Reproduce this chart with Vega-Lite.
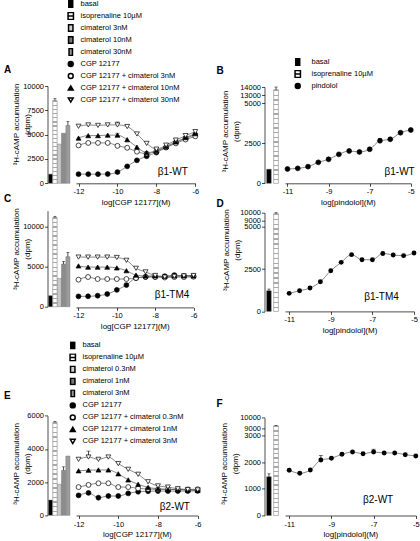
{
"$schema": "https://vega.github.io/schema/vega-lite/v6.json",
"padding": {"left": 3.5, "top": 0, "right": 0, "bottom": 0},
"params": [
  {"name": "hatch", "value": {"gradient": "linear", "x1": 0, "y1": 0, "x2": 0, "y2": 1, "stops": [
    {"offset": 0, "color": "#aaa"}, {"offset": 0.015, "color": "#aaa"}, {"offset": 0.015, "color": "#fff"}, {"offset": 0.05, "color": "#fff"},
    {"offset": 0.05, "color": "#aaa"}, {"offset": 0.065, "color": "#aaa"}, {"offset": 0.065, "color": "#fff"}, {"offset": 0.1, "color": "#fff"},
    {"offset": 0.1, "color": "#aaa"}, {"offset": 0.115, "color": "#aaa"}, {"offset": 0.115, "color": "#fff"}, {"offset": 0.15, "color": "#fff"},
    {"offset": 0.15, "color": "#aaa"}, {"offset": 0.165, "color": "#aaa"}, {"offset": 0.165, "color": "#fff"}, {"offset": 0.2, "color": "#fff"},
    {"offset": 0.2, "color": "#aaa"}, {"offset": 0.215, "color": "#aaa"}, {"offset": 0.215, "color": "#fff"}, {"offset": 0.25, "color": "#fff"},
    {"offset": 0.25, "color": "#aaa"}, {"offset": 0.265, "color": "#aaa"}, {"offset": 0.265, "color": "#fff"}, {"offset": 0.3, "color": "#fff"},
    {"offset": 0.3, "color": "#aaa"}, {"offset": 0.315, "color": "#aaa"}, {"offset": 0.315, "color": "#fff"}, {"offset": 0.35, "color": "#fff"},
    {"offset": 0.35, "color": "#aaa"}, {"offset": 0.365, "color": "#aaa"}, {"offset": 0.365, "color": "#fff"}, {"offset": 0.4, "color": "#fff"},
    {"offset": 0.4, "color": "#aaa"}, {"offset": 0.415, "color": "#aaa"}, {"offset": 0.415, "color": "#fff"}, {"offset": 0.45, "color": "#fff"},
    {"offset": 0.45, "color": "#aaa"}, {"offset": 0.465, "color": "#aaa"}, {"offset": 0.465, "color": "#fff"}, {"offset": 0.5, "color": "#fff"},
    {"offset": 0.5, "color": "#aaa"}, {"offset": 0.515, "color": "#aaa"}, {"offset": 0.515, "color": "#fff"}, {"offset": 0.55, "color": "#fff"},
    {"offset": 0.55, "color": "#aaa"}, {"offset": 0.565, "color": "#aaa"}, {"offset": 0.565, "color": "#fff"}, {"offset": 0.6, "color": "#fff"},
    {"offset": 0.6, "color": "#aaa"}, {"offset": 0.615, "color": "#aaa"}, {"offset": 0.615, "color": "#fff"}, {"offset": 0.65, "color": "#fff"},
    {"offset": 0.65, "color": "#aaa"}, {"offset": 0.665, "color": "#aaa"}, {"offset": 0.665, "color": "#fff"}, {"offset": 0.7, "color": "#fff"},
    {"offset": 0.7, "color": "#aaa"}, {"offset": 0.715, "color": "#aaa"}, {"offset": 0.715, "color": "#fff"}, {"offset": 0.75, "color": "#fff"},
    {"offset": 0.75, "color": "#aaa"}, {"offset": 0.765, "color": "#aaa"}, {"offset": 0.765, "color": "#fff"}, {"offset": 0.8, "color": "#fff"},
    {"offset": 0.8, "color": "#aaa"}, {"offset": 0.815, "color": "#aaa"}, {"offset": 0.815, "color": "#fff"}, {"offset": 0.85, "color": "#fff"},
    {"offset": 0.85, "color": "#aaa"}, {"offset": 0.865, "color": "#aaa"}, {"offset": 0.865, "color": "#fff"}, {"offset": 0.9, "color": "#fff"},
    {"offset": 0.9, "color": "#aaa"}, {"offset": 0.915, "color": "#aaa"}, {"offset": 0.915, "color": "#fff"}, {"offset": 0.95, "color": "#fff"},
    {"offset": 0.95, "color": "#aaa"}, {"offset": 0.965, "color": "#aaa"}, {"offset": 0.965, "color": "#fff"}, {"offset": 1, "color": "#fff"}
  ]}}
],
"config": {
  "view": {"stroke": null},
  "font": "Liberation Sans",
  "axis": {"labelFont": "Liberation Sans", "labelFontSize": 7.5, "labelColor": "#000", "titleFont": "Liberation Sans", "titleFontSize": 8, "titleFontWeight": "normal", "titleColor": "#000", "domainColor": "#000", "domainWidth": 0.7, "tickColor": "#000", "tickWidth": 0.7, "tickSize": 3, "labelPadding": 1.5, "grid": false, "labelOverlap": false},
  "axisX": {"titlePadding": 3, "labelFlush": false},
  "axisY": {"titleAngle": 270, "titleBaseline": "middle", "titleAlign": "center", "titleLineHeight": 11, "labelPadding": 1},
  "title": {"font": "Liberation Sans", "color": "#000", "fontSize": 10, "fontWeight": "bold", "anchor": "start", "frame": "group", "baseline": "alphabetic"},
  "text": {"font": "Liberation Sans", "color": "#000"},
  "legend": {"title": null, "orient": "none", "labelFontSize": 7.5, "labelFont": "Liberation Sans", "labelColor": "#000", "symbolSize": 24, "symbolOpacity": 1, "rowPadding": 4, "clipHeight": 8, "labelLimit": 220}
},
"datasets": {
  "A_bars": [{"series":"basal","value":940},{"series":"isoprenaline 10µM","value":8500,"hi":8700},{"series":"cimaterol 3nM","value":4030},{"series":"cimaterol 10nM","value":5140},{"series":"cimaterol 30nM","value":5940,"hi":6350}],
  "C_bars": [{"series":"basal","value":1375},{"series":"isoprenaline 10µM","value":11150,"hi":11300},{"series":"cimaterol 3nM","value":3540},{"series":"cimaterol 10nM","value":5330,"hi":5650},{"series":"cimaterol 30nM","value":6250,"hi":6800}],
  "E_bars": [{"series":"basal","value":920},{"series":"isoprenaline 10µM","value":5600,"hi":5650},{"series":"cimaterol 0.3nM","value":1870},{"series":"cimaterol 1nM","value":2710,"hi":2920},{"series":"cimaterol 3nM","value":3570}],
  "B_bars": [{"series":"basal","value":880},{"series":"isoprenaline 10µM","value":13650,"hi":14000}],
  "D_bars": [{"series":"basal","value":1220,"hi":1320},{"series":"isoprenaline 10µM","value":9850,"hi":10000}],
  "F_bars": [{"series":"basal","value":1450,"hi":1560},{"series":"isoprenaline 10µM","value":9250,"hi":9300}],
  "A_curves": [
    {"logc":-12,"series":"CGP 12177","value":940},{"logc":-11.5,"series":"CGP 12177","value":940},{"logc":-11,"series":"CGP 12177","value":940},{"logc":-10.5,"series":"CGP 12177","value":950},{"logc":-10,"series":"CGP 12177","value":1150},{"logc":-9.5,"series":"CGP 12177","value":1740},{"logc":-9,"series":"CGP 12177","value":2360},{"logc":-8.5,"series":"CGP 12177","value":2780},{"logc":-8,"series":"CGP 12177","value":3160},{"logc":-7.5,"series":"CGP 12177","value":3680},{"logc":-7,"series":"CGP 12177","value":4200},{"logc":-6.5,"series":"CGP 12177","value":4620},{"logc":-6,"series":"CGP 12177","value":5000},
    {"logc":-12,"series":"CGP 12177 + cimaterol 3nM","value":3890},{"logc":-11.5,"series":"CGP 12177 + cimaterol 3nM","value":4150},{"logc":-11,"series":"CGP 12177 + cimaterol 3nM","value":4150},{"logc":-10.5,"series":"CGP 12177 + cimaterol 3nM","value":4150},{"logc":-10,"series":"CGP 12177 + cimaterol 3nM","value":3850},{"logc":-9.5,"series":"CGP 12177 + cimaterol 3nM","value":3650},{"logc":-9,"series":"CGP 12177 + cimaterol 3nM","value":3250},{"logc":-8.5,"series":"CGP 12177 + cimaterol 3nM","value":3050},{"logc":-8,"series":"CGP 12177 + cimaterol 3nM","value":3300},{"logc":-7.5,"series":"CGP 12177 + cimaterol 3nM","value":3700},{"logc":-7,"series":"CGP 12177 + cimaterol 3nM","value":4100},{"logc":-6.5,"series":"CGP 12177 + cimaterol 3nM","value":4500},{"logc":-6,"series":"CGP 12177 + cimaterol 3nM","value":4830},
    {"logc":-12,"series":"CGP 12177 + cimaterol 10nM","value":4650},{"logc":-11.5,"series":"CGP 12177 + cimaterol 10nM","value":4900},{"logc":-11,"series":"CGP 12177 + cimaterol 10nM","value":4900},{"logc":-10.5,"series":"CGP 12177 + cimaterol 10nM","value":4950},{"logc":-10,"series":"CGP 12177 + cimaterol 10nM","value":4950,"hi":5150},{"logc":-9.5,"series":"CGP 12177 + cimaterol 10nM","value":4480},{"logc":-9,"series":"CGP 12177 + cimaterol 10nM","value":3720},{"logc":-8.5,"series":"CGP 12177 + cimaterol 10nM","value":3150},{"logc":-8,"series":"CGP 12177 + cimaterol 10nM","value":3350},{"logc":-7.5,"series":"CGP 12177 + cimaterol 10nM","value":3800},{"logc":-7,"series":"CGP 12177 + cimaterol 10nM","value":4250},{"logc":-6.5,"series":"CGP 12177 + cimaterol 10nM","value":4700},{"logc":-6,"series":"CGP 12177 + cimaterol 10nM","value":5100},
    {"logc":-12,"series":"CGP 12177 + cimaterol 30nM","value":5860},{"logc":-11.5,"series":"CGP 12177 + cimaterol 30nM","value":6000},{"logc":-11,"series":"CGP 12177 + cimaterol 30nM","value":5950},{"logc":-10.5,"series":"CGP 12177 + cimaterol 30nM","value":6000},{"logc":-10,"series":"CGP 12177 + cimaterol 30nM","value":6000,"hi":6300},{"logc":-9.5,"series":"CGP 12177 + cimaterol 30nM","value":5830},{"logc":-9,"series":"CGP 12177 + cimaterol 30nM","value":5070},{"logc":-8.5,"series":"CGP 12177 + cimaterol 30nM","value":4100},{"logc":-8,"series":"CGP 12177 + cimaterol 30nM","value":3510},{"logc":-7.5,"series":"CGP 12177 + cimaterol 30nM","value":3920},{"logc":-7,"series":"CGP 12177 + cimaterol 30nM","value":4440},{"logc":-6.5,"series":"CGP 12177 + cimaterol 30nM","value":4900},{"logc":-6,"series":"CGP 12177 + cimaterol 30nM","value":5310}
  ],
  "C_curves": [
    {"logc":-12,"series":"CGP 12177","value":1290},{"logc":-11.5,"series":"CGP 12177","value":1300},{"logc":-11,"series":"CGP 12177","value":1375},{"logc":-10.5,"series":"CGP 12177","value":1580},{"logc":-10,"series":"CGP 12177","value":2100},{"logc":-9.5,"series":"CGP 12177","value":2700},{"logc":-9,"series":"CGP 12177","value":3580},{"logc":-8.5,"series":"CGP 12177","value":3700},{"logc":-8,"series":"CGP 12177","value":3750},{"logc":-7.5,"series":"CGP 12177","value":3800},{"logc":-7,"series":"CGP 12177","value":3950},{"logc":-6.5,"series":"CGP 12177","value":3850},{"logc":-6,"series":"CGP 12177","value":3800},
    {"logc":-12,"series":"CGP 12177 + cimaterol 3nM","value":3380},{"logc":-11.5,"series":"CGP 12177 + cimaterol 3nM","value":3710},{"logc":-11,"series":"CGP 12177 + cimaterol 3nM","value":3460},{"logc":-10.5,"series":"CGP 12177 + cimaterol 3nM","value":3460},{"logc":-10,"series":"CGP 12177 + cimaterol 3nM","value":3460},{"logc":-9.5,"series":"CGP 12177 + cimaterol 3nM","value":3460},{"logc":-9,"series":"CGP 12177 + cimaterol 3nM","value":3580},{"logc":-8.5,"series":"CGP 12177 + cimaterol 3nM","value":3750},{"logc":-8,"series":"CGP 12177 + cimaterol 3nM","value":3700},{"logc":-7.5,"series":"CGP 12177 + cimaterol 3nM","value":3650},{"logc":-7,"series":"CGP 12177 + cimaterol 3nM","value":3700},{"logc":-6.5,"series":"CGP 12177 + cimaterol 3nM","value":3700},{"logc":-6,"series":"CGP 12177 + cimaterol 3nM","value":3750},
    {"logc":-12,"series":"CGP 12177 + cimaterol 10nM","value":5100},{"logc":-11.5,"series":"CGP 12177 + cimaterol 10nM","value":4950},{"logc":-11,"series":"CGP 12177 + cimaterol 10nM","value":4950},{"logc":-10.5,"series":"CGP 12177 + cimaterol 10nM","value":4950},{"logc":-10,"series":"CGP 12177 + cimaterol 10nM","value":4850},{"logc":-9.5,"series":"CGP 12177 + cimaterol 10nM","value":4500},{"logc":-9,"series":"CGP 12177 + cimaterol 10nM","value":3950},{"logc":-8.5,"series":"CGP 12177 + cimaterol 10nM","value":3850},{"logc":-8,"series":"CGP 12177 + cimaterol 10nM","value":3850},{"logc":-7.5,"series":"CGP 12177 + cimaterol 10nM","value":3800},{"logc":-7,"series":"CGP 12177 + cimaterol 10nM","value":3850},{"logc":-6.5,"series":"CGP 12177 + cimaterol 10nM","value":3850},{"logc":-6,"series":"CGP 12177 + cimaterol 10nM","value":3850},
    {"logc":-12,"series":"CGP 12177 + cimaterol 30nM","value":6200},{"logc":-11.5,"series":"CGP 12177 + cimaterol 30nM","value":6200},{"logc":-11,"series":"CGP 12177 + cimaterol 30nM","value":6200},{"logc":-10.5,"series":"CGP 12177 + cimaterol 30nM","value":6200},{"logc":-10,"series":"CGP 12177 + cimaterol 30nM","value":6150},{"logc":-9.5,"series":"CGP 12177 + cimaterol 30nM","value":5800},{"logc":-9,"series":"CGP 12177 + cimaterol 30nM","value":4800},{"logc":-8.5,"series":"CGP 12177 + cimaterol 30nM","value":4350},{"logc":-8,"series":"CGP 12177 + cimaterol 30nM","value":3900},{"logc":-7.5,"series":"CGP 12177 + cimaterol 30nM","value":3700},{"logc":-7,"series":"CGP 12177 + cimaterol 30nM","value":3800},{"logc":-6.5,"series":"CGP 12177 + cimaterol 30nM","value":3850},{"logc":-6,"series":"CGP 12177 + cimaterol 30nM","value":3900}
  ],
  "E_curves": [
    {"logc":-12,"series":"CGP 12177","value":1200},{"logc":-11.5,"series":"CGP 12177","value":1350},{"logc":-11,"series":"CGP 12177","value":1060},{"logc":-10.5,"series":"CGP 12177","value":1160},{"logc":-10,"series":"CGP 12177","value":1160},{"logc":-9.5,"series":"CGP 12177","value":1320},{"logc":-9,"series":"CGP 12177","value":1420},{"logc":-8.5,"series":"CGP 12177","value":1450},{"logc":-8,"series":"CGP 12177","value":1460},{"logc":-7.5,"series":"CGP 12177","value":1460},{"logc":-7,"series":"CGP 12177","value":1460},{"logc":-6.5,"series":"CGP 12177","value":1460},{"logc":-6,"series":"CGP 12177","value":1470},
    {"logc":-12,"series":"CGP 12177 + cimaterol 0.3nM","value":1700},{"logc":-11.5,"series":"CGP 12177 + cimaterol 0.3nM","value":1830},{"logc":-11,"series":"CGP 12177 + cimaterol 0.3nM","value":1930},{"logc":-10.5,"series":"CGP 12177 + cimaterol 0.3nM","value":1930},{"logc":-10,"series":"CGP 12177 + cimaterol 0.3nM","value":1700},{"logc":-9.5,"series":"CGP 12177 + cimaterol 0.3nM","value":1700},{"logc":-9,"series":"CGP 12177 + cimaterol 0.3nM","value":1620},{"logc":-8.5,"series":"CGP 12177 + cimaterol 0.3nM","value":1580},{"logc":-8,"series":"CGP 12177 + cimaterol 0.3nM","value":1560},{"logc":-7.5,"series":"CGP 12177 + cimaterol 0.3nM","value":1560},{"logc":-7,"series":"CGP 12177 + cimaterol 0.3nM","value":1560},{"logc":-6.5,"series":"CGP 12177 + cimaterol 0.3nM","value":1560},{"logc":-6,"series":"CGP 12177 + cimaterol 0.3nM","value":1570},
    {"logc":-12,"series":"CGP 12177 + cimaterol 1nM","value":2680},{"logc":-11.5,"series":"CGP 12177 + cimaterol 1nM","value":2720},{"logc":-11,"series":"CGP 12177 + cimaterol 1nM","value":2730},{"logc":-10.5,"series":"CGP 12177 + cimaterol 1nM","value":2730},{"logc":-10,"series":"CGP 12177 + cimaterol 1nM","value":2500},{"logc":-9.5,"series":"CGP 12177 + cimaterol 1nM","value":2130},{"logc":-9,"series":"CGP 12177 + cimaterol 1nM","value":1870},{"logc":-8.5,"series":"CGP 12177 + cimaterol 1nM","value":1680},{"logc":-8,"series":"CGP 12177 + cimaterol 1nM","value":1600},{"logc":-7.5,"series":"CGP 12177 + cimaterol 1nM","value":1560},{"logc":-7,"series":"CGP 12177 + cimaterol 1nM","value":1540},{"logc":-6.5,"series":"CGP 12177 + cimaterol 1nM","value":1520},{"logc":-6,"series":"CGP 12177 + cimaterol 1nM","value":1500},
    {"logc":-12,"series":"CGP 12177 + cimaterol 3nM","value":3370},{"logc":-11.5,"series":"CGP 12177 + cimaterol 3nM","value":3510,"hi":3870},{"logc":-11,"series":"CGP 12177 + cimaterol 3nM","value":3370},{"logc":-10.5,"series":"CGP 12177 + cimaterol 3nM","value":3510},{"logc":-10,"series":"CGP 12177 + cimaterol 3nM","value":3110},{"logc":-9.5,"series":"CGP 12177 + cimaterol 3nM","value":2770},{"logc":-9,"series":"CGP 12177 + cimaterol 3nM","value":2470},{"logc":-8.5,"series":"CGP 12177 + cimaterol 3nM","value":2020},{"logc":-8,"series":"CGP 12177 + cimaterol 3nM","value":1770},{"logc":-7.5,"series":"CGP 12177 + cimaterol 3nM","value":1700},{"logc":-7,"series":"CGP 12177 + cimaterol 3nM","value":1600},{"logc":-6.5,"series":"CGP 12177 + cimaterol 3nM","value":1550},{"logc":-6,"series":"CGP 12177 + cimaterol 3nM","value":1530}
  ],
  "B_curves": [
    {"logc":-11,"series":"pindolol","value":894},{"logc":-10.5,"series":"pindolol","value":935},{"logc":-10,"series":"pindolol","value":1040},{"logc":-9.5,"series":"pindolol","value":1310},{"logc":-9,"series":"pindolol","value":1500},{"logc":-8.5,"series":"pindolol","value":1810},{"logc":-8,"series":"pindolol","value":2020},{"logc":-7.5,"series":"pindolol","value":1960},{"logc":-7,"series":"pindolol","value":2125},{"logc":-6.5,"series":"pindolol","value":2660,"hi":2800},{"logc":-6,"series":"pindolol","value":2750},{"logc":-5.5,"series":"pindolol","value":3160},{"logc":-5,"series":"pindolol","value":3330}
  ],
  "D_curves": [
    {"logc":-11,"series":"pindolol","value":1065},{"logc":-10.5,"series":"pindolol","value":1220},{"logc":-10,"series":"pindolol","value":1380},{"logc":-9.5,"series":"pindolol","value":1750},{"logc":-9,"series":"pindolol","value":2400},{"logc":-8.5,"series":"pindolol","value":2895},{"logc":-8,"series":"pindolol","value":3350},{"logc":-7.5,"series":"pindolol","value":3050},{"logc":-7,"series":"pindolol","value":3050},{"logc":-6.5,"series":"pindolol","value":3420},{"logc":-6,"series":"pindolol","value":3330},{"logc":-5.5,"series":"pindolol","value":3290},{"logc":-5,"series":"pindolol","value":3450}
  ],
  "F_curves": [
    {"logc":-11,"series":"pindolol","value":1690},{"logc":-10.5,"series":"pindolol","value":1580},{"logc":-10,"series":"pindolol","value":1700},{"logc":-9.5,"series":"pindolol","value":2075,"hi":2250},{"logc":-9,"series":"pindolol","value":2140},{"logc":-8.5,"series":"pindolol","value":2290},{"logc":-8,"series":"pindolol","value":2375},{"logc":-7.5,"series":"pindolol","value":2310},{"logc":-7,"series":"pindolol","value":2375,"hi":2480},{"logc":-6.5,"series":"pindolol","value":2340},{"logc":-6,"series":"pindolol","value":2340},{"logc":-5.5,"series":"pindolol","value":2275},{"logc":-5,"series":"pindolol","value":2225}
  ]
},
"columns": 4,
"spacing": {"row": 26.7, "column": 4.5},
"bounds": "flush",
"align": "each",
"resolve": {"scale": {"fill": "independent", "shape": "independent"}},
"concat": [
  {"width": 23.5, "height": 97.3,
   "title": {"text": "A", "dx": -43.5, "offset": 7},
   "data": {"name": "A_bars"},
   "encoding": {"x": {"field": "series", "type": "nominal", "sort": null, "axis": null, "scale": {"paddingInner": 0.05, "paddingOuter": 0.25}}},
   "layer": [
    {"mark": {"type": "bar", "stroke": "#666", "strokeWidth": 0.4},
     "encoding": {
      "y": {"field": "value", "type": "quantitative", "scale": {"domain": [0, 10000], "nice": false}, "axis": {"values": [0, 2500, 5000, 7500, 10000], "tickCount": 20, "format": "d", "labelOverlap": false, "title": ["³H-cAMP accumulation", "(dpm)"], "titleX": -31, "titleY": 38}},
      "fill": {"field": "series", "type": "nominal", "scale": {"domain": ["basal", "isoprenaline 10µM", "cimaterol 3nM", "cimaterol 10nM", "cimaterol 30nM"], "range": ["#000", "#fff", "#c8c8c8", "#8c8c8c", "#9c9c9c"]}, "legend": null}}},
    {"transform": [{"filter": "datum.series === 'isoprenaline 10µM'"}], "mark": {"type": "bar", "fill": {"expr": "hatch"}, "stroke": "#999", "strokeWidth": 0.5}, "encoding": {"y": {"field": "value", "type": "quantitative", "axis": {"labelOverlap": false, "tickCount": 20, "values": [0, 2500, 5000, 7500, 10000]}}}},
    {"mark": {"type": "rule", "color": "#000", "strokeWidth": 0.7}, "encoding": {"y": {"field": "hi", "type": "quantitative", "axis": {"labelOverlap": false, "tickCount": 20, "values": [0, 2500, 5000, 7500, 10000]}}, "y2": {"field": "value"}}},
    {"mark": {"type": "tick", "color": "#000", "thickness": 0.7, "size": 3, "orient": "horizontal"}, "encoding": {"y": {"field": "hi", "type": "quantitative", "axis": {"labelOverlap": false, "tickCount": 20, "values": [0, 2500, 5000, 7500, 10000]}}}}
   ]},
  {"width": 183.5, "height": 97.3,
   "layer": [
    {"data": {"name": "A_curves"},
     "encoding": {
      "x": {"field": "logc", "type": "quantitative", "scale": {"domain": [-12.13, -6], "range": [0, 119.3], "nice": false, "zero": false}, "axis": {"values": [-12, -11, -10, -9, -8, -7, -6], "labelOverlap": false, "labelExpr": "'' + datum.value", "title": "log[CGP 12177](M)"}},
      "y": {"field": "value", "type": "quantitative", "scale": {"domain": [0, 10000], "nice": false}, "axis": null}},
     "layer": [
      {"mark": {"type": "line", "interpolate": "monotone", "color": "#555", "strokeWidth": 0.7}, "encoding": {"detail": {"field": "series"}}},
      {"mark": {"type": "rule", "color": "#000", "strokeWidth": 0.7}, "encoding": {"y": {"field": "hi", "type": "quantitative"}, "y2": {"field": "value"}}},
      {"mark": {"type": "tick", "color": "#000", "thickness": 0.7, "size": 4, "orient": "horizontal"}, "encoding": {"y": {"field": "hi", "type": "quantitative"}}},
      {"mark": {"type": "point", "filled": true, "size": 24, "opacity": 1, "stroke": "#000", "strokeWidth": 0.7},
       "encoding": {
        "shape": {"field": "series", "type": "nominal", "scale": {"domain": ["basal", "isoprenaline 10µM", "cimaterol 3nM", "cimaterol 10nM", "cimaterol 30nM", "CGP 12177", "CGP 12177 + cimaterol 3nM", "CGP 12177 + cimaterol 10nM", "CGP 12177 + cimaterol 30nM"], "range": ["M-0.8,-1.4H0.8V1.4H-0.8Z", "M-1.1,-1.4H1.1V1.4H-1.1ZM-1.1,0H1.1", "M-0.9,-1.3H0.9V1.3H-0.9Z", "M-0.9,-1.3H0.9V1.3H-0.9Z", "M-0.7,-1.4H0.7V1.4H-0.7Z", "circle", "circle", "triangle-up", "triangle-down"]},
         "legend": {"legendX": -9, "legendY": -86, "labelOffset": 6, "encode": {"symbols": {"update": {"stroke": {"signal": "datum.value === 'cimaterol 30nM' ? '#999' : '#000'"}, "strokeWidth": {"value": 0.6}}}}}},
        "fill": {"field": "series", "type": "nominal", "scale": {"domain": ["basal", "isoprenaline 10µM", "cimaterol 3nM", "cimaterol 10nM", "cimaterol 30nM", "CGP 12177", "CGP 12177 + cimaterol 3nM", "CGP 12177 + cimaterol 10nM", "CGP 12177 + cimaterol 30nM"], "range": ["#000", "#fff", "#d0d0d0", "#777", "#999", "#000", "#fff", "#000", "#fff"]},
         "legend": {"legendX": -9, "legendY": -86, "labelOffset": 6, "encode": {"symbols": {"update": {"stroke": {"signal": "datum.value === 'cimaterol 30nM' ? '#999' : '#000'"}, "strokeWidth": {"value": 0.6}}}}}}}}
     ]},
    {"data": {"values": [{"label": "β1-WT"}]}, "mark": {"type": "text", "align": "right", "baseline": "middle", "fontSize": 10}, "encoding": {"x": {"datum": -6.38}, "y": {"datum": 1200}, "text": {"field": "label"}}}
   ]},
  {"width": 16, "height": 97.3,
   "title": {"text": "B", "dx": -48, "offset": 7},
   "data": {"name": "B_bars"},
   "encoding": {"x": {"field": "series", "type": "nominal", "sort": null, "axis": null, "scale": {"paddingInner": 0.35, "paddingOuter": 0.3}}},
   "layer": [
    {"mark": {"type": "bar", "stroke": "#666", "strokeWidth": 0.4},
     "encoding": {
      "y": {"field": "value", "type": "quantitative", "scale": {"domain": [0, 5000, 13000, 14000], "range": [97.3, 17.3, 9.3, 1], "nice": false, "zero": false}, "axis": {"values": [0, 2500, 5000, 13000, 14000], "tickCount": 20, "format": "d", "labelOverlap": false, "title": ["³H-cAMP accumulation", "(dpm)"], "titleX": -39, "titleY": 45}},
      "fill": {"field": "series", "type": "nominal", "scale": {"domain": ["basal", "isoprenaline 10µM"], "range": ["#000", "#fff"]}, "legend": null}}},
    {"transform": [{"filter": "datum.series === 'isoprenaline 10µM'"}], "mark": {"type": "bar", "fill": {"expr": "hatch"}, "stroke": "#999", "strokeWidth": 0.5}, "encoding": {"y": {"field": "value", "type": "quantitative", "axis": {"labelOverlap": false, "tickCount": 20, "values": [0, 2500, 5000, 13000, 14000]}}}},
    {"mark": {"type": "rule", "color": "#000", "strokeWidth": 0.7}, "encoding": {"y": {"field": "hi", "type": "quantitative", "axis": {"labelOverlap": false, "tickCount": 20, "values": [0, 2500, 5000, 13000, 14000]}}, "y2": {"field": "value"}}},
    {"mark": {"type": "tick", "color": "#000", "thickness": 0.7, "size": 3, "orient": "horizontal"}, "encoding": {"y": {"field": "hi", "type": "quantitative", "axis": {"labelOverlap": false, "tickCount": 20, "values": [0, 2500, 5000, 13000, 14000]}}}}
   ]},
  {"width": 131, "height": 97.3,
   "layer": [
    {"data": {"name": "B_curves"},
     "encoding": {
      "x": {"field": "logc", "type": "quantitative", "scale": {"domain": [-11.12, -5], "range": [0, 125.8], "nice": false, "zero": false}, "axis": {"values": [-11, -10, -9, -8, -7, -6, -5], "labelOverlap": false, "labelExpr": "'' + datum.value", "title": "log[pindolol](M)"}},
      "y": {"field": "value", "type": "quantitative", "scale": {"domain": [0, 5000, 13000, 14000], "range": [97.3, 17.3, 9.3, 1], "nice": false, "zero": false}, "axis": null}},
     "layer": [
      {"mark": {"type": "line", "interpolate": "monotone", "color": "#555", "strokeWidth": 0.7}, "encoding": {"detail": {"field": "series"}}},
      {"mark": {"type": "rule", "color": "#000", "strokeWidth": 0.7}, "encoding": {"y": {"field": "hi", "type": "quantitative"}, "y2": {"field": "value"}}},
      {"mark": {"type": "tick", "color": "#000", "thickness": 0.7, "size": 4, "orient": "horizontal"}, "encoding": {"y": {"field": "hi", "type": "quantitative"}}},
      {"mark": {"type": "point", "filled": true, "size": 24, "opacity": 1, "stroke": "#000", "strokeWidth": 0.7},
       "encoding": {
        "shape": {"field": "series", "type": "nominal", "scale": {"domain": ["basal", "isoprenaline 10µM", "pindolol"], "range": ["M-0.8,-1.4H0.8V1.4H-0.8Z", "M-1.1,-1.4H1.1V1.4H-1.1ZM-1.1,0H1.1", "circle"]},
         "legend": {"legendX": 9, "legendY": -28, "labelOffset": 10, "encode": {"symbols": {"update": {"stroke": {"value": "#000"}, "strokeWidth": {"value": 0.6}}}}}},
        "fill": {"field": "series", "type": "nominal", "scale": {"domain": ["basal", "isoprenaline 10µM", "pindolol"], "range": ["#000", "#fff", "#000"]},
         "legend": {"legendX": 9, "legendY": -28, "labelOffset": 10, "encode": {"symbols": {"update": {"stroke": {"value": "#000"}, "strokeWidth": {"value": 0.6}}}}}}}}
     ]},
    {"data": {"values": [{"label": "β1-WT"}]}, "mark": {"type": "text", "align": "right", "baseline": "middle", "fontSize": 10}, "encoding": {"x": {"datum": -4.81}, "y": {"datum": 725}, "text": {"field": "label"}}}
   ]},
  {"width": 23.5, "height": 100.7,
   "title": {"text": "C", "dx": -43.5, "offset": 4},
   "data": {"name": "C_bars"},
   "encoding": {"x": {"field": "series", "type": "nominal", "sort": null, "axis": null, "scale": {"paddingInner": 0.05, "paddingOuter": 0.25}}},
   "layer": [
    {"mark": {"type": "bar", "stroke": "#666", "strokeWidth": 0.4},
     "encoding": {
      "y": {"field": "value", "type": "quantitative", "scale": {"domain": [0, 12000], "range": [96, 0], "nice": false}, "axis": {"values": [0, 5000, 10000], "tickCount": 20, "format": "d", "labelOverlap": false, "title": ["³H-cAMP accumulation", "(dpm)"], "titleX": -31, "titleY": 38}},
      "fill": {"field": "series", "type": "nominal", "scale": {"domain": ["basal", "isoprenaline 10µM", "cimaterol 3nM", "cimaterol 10nM", "cimaterol 30nM"], "range": ["#000", "#fff", "#c8c8c8", "#8c8c8c", "#9c9c9c"]}, "legend": null}}},
    {"transform": [{"filter": "datum.series === 'isoprenaline 10µM'"}], "mark": {"type": "bar", "fill": {"expr": "hatch"}, "stroke": "#999", "strokeWidth": 0.5}, "encoding": {"y": {"field": "value", "type": "quantitative", "axis": {"labelOverlap": false, "tickCount": 20, "values": [0, 5000, 10000]}}}},
    {"mark": {"type": "rule", "color": "#000", "strokeWidth": 0.7}, "encoding": {"y": {"field": "hi", "type": "quantitative", "axis": {"labelOverlap": false, "tickCount": 20, "values": [0, 5000, 10000]}}, "y2": {"field": "value"}}},
    {"mark": {"type": "tick", "color": "#000", "thickness": 0.7, "size": 3, "orient": "horizontal"}, "encoding": {"y": {"field": "hi", "type": "quantitative", "axis": {"labelOverlap": false, "tickCount": 20, "values": [0, 5000, 10000]}}}}
   ]},
  {"width": 183.5, "height": 100.7,
   "layer": [
    {"data": {"name": "C_curves"},
     "encoding": {
      "x": {"field": "logc", "type": "quantitative", "scale": {"domain": [-12.13, -6], "range": [0, 117.5], "nice": false, "zero": false}, "axis": {"values": [-12, -11, -10, -9, -8, -7, -6], "labelOverlap": false, "labelExpr": "'' + datum.value", "title": "log[CGP 12177](M)", "offset": -4}},
      "y": {"field": "value", "type": "quantitative", "scale": {"domain": [0, 12000], "range": [96, 0], "nice": false}, "axis": null}},
     "layer": [
      {"mark": {"type": "line", "interpolate": "monotone", "color": "#555", "strokeWidth": 0.7}, "encoding": {"detail": {"field": "series"}}},
      {"mark": {"type": "point", "filled": true, "size": 24, "opacity": 1, "stroke": "#000", "strokeWidth": 0.7},
       "encoding": {
        "shape": {"field": "series", "type": "nominal", "scale": {"domain": ["CGP 12177", "CGP 12177 + cimaterol 3nM", "CGP 12177 + cimaterol 10nM", "CGP 12177 + cimaterol 30nM"], "range": ["circle", "circle", "triangle-up", "triangle-down"]}, "legend": null},
        "fill": {"field": "series", "type": "nominal", "scale": {"domain": ["CGP 12177", "CGP 12177 + cimaterol 3nM", "CGP 12177 + cimaterol 10nM", "CGP 12177 + cimaterol 30nM"], "range": ["#000", "#fff", "#000", "#fff"]}, "legend": null}}}
     ]},
    {"data": {"values": [{"label": "β1-TM4"}]}, "mark": {"type": "text", "align": "right", "baseline": "middle", "fontSize": 10}, "encoding": {"x": {"datum": -6.22}, "y": {"datum": 1500}, "text": {"field": "label"}}}
   ]},
  {"width": 16, "height": 100.7,
   "title": {"text": "D", "dx": -48, "offset": 0},
   "data": {"name": "D_bars"},
   "encoding": {"x": {"field": "series", "type": "nominal", "sort": null, "axis": null, "scale": {"paddingInner": 0.35, "paddingOuter": 0.3}}},
   "layer": [
    {"mark": {"type": "bar", "stroke": "#666", "strokeWidth": 0.4},
     "encoding": {
      "y": {"field": "value", "type": "quantitative", "scale": {"domain": [0, 5000, 9000, 10000], "range": [100.7, 16, 9.5, 2], "nice": false, "zero": false}, "axis": {"values": [0, 2500, 5000, 9000, 10000], "tickCount": 20, "format": "d", "labelOverlap": false, "title": ["³H-cAMP accumulation", "(dpm)"], "titleX": -38, "titleY": 39}},
      "fill": {"field": "series", "type": "nominal", "scale": {"domain": ["basal", "isoprenaline 10µM"], "range": ["#000", "#fff"]}, "legend": null}}},
    {"transform": [{"filter": "datum.series === 'isoprenaline 10µM'"}], "mark": {"type": "bar", "fill": {"expr": "hatch"}, "stroke": "#999", "strokeWidth": 0.5}, "encoding": {"y": {"field": "value", "type": "quantitative", "axis": {"labelOverlap": false, "tickCount": 20, "values": [0, 2500, 5000, 9000, 10000]}}}},
    {"mark": {"type": "rule", "color": "#000", "strokeWidth": 0.7}, "encoding": {"y": {"field": "hi", "type": "quantitative", "axis": {"labelOverlap": false, "tickCount": 20, "values": [0, 2500, 5000, 9000, 10000]}}, "y2": {"field": "value"}}},
    {"mark": {"type": "tick", "color": "#000", "thickness": 0.7, "size": 3, "orient": "horizontal"}, "encoding": {"y": {"field": "hi", "type": "quantitative", "axis": {"labelOverlap": false, "tickCount": 20, "values": [0, 2500, 5000, 9000, 10000]}}}}
   ]},
  {"width": 131, "height": 100.7,
   "layer": [
    {"data": {"name": "D_curves"},
     "encoding": {
      "x": {"field": "logc", "type": "quantitative", "scale": {"domain": [-11.2, -5], "range": [0, 129], "nice": false, "zero": false}, "axis": {"values": [-11, -10, -9, -8, -7, -6, -5], "labelOverlap": false, "labelExpr": "'' + datum.value", "title": "log[pindolol](M)"}},
      "y": {"field": "value", "type": "quantitative", "scale": {"domain": [0, 5000, 9000, 10000], "range": [100.7, 16, 9.5, 2], "nice": false, "zero": false}, "axis": null}},
     "layer": [
      {"mark": {"type": "line", "interpolate": "monotone", "color": "#555", "strokeWidth": 0.7}, "encoding": {"detail": {"field": "series"}}},
      {"mark": {"type": "point", "filled": true, "size": 24, "opacity": 1, "fill": "#000", "shape": "circle"}, "encoding": {}}
     ]},
    {"data": {"values": [{"label": "β1-TM4"}]}, "mark": {"type": "text", "align": "right", "baseline": "middle", "fontSize": 10}, "encoding": {"x": {"datum": -5.73}, "y": {"datum": 870}, "text": {"field": "label"}}}
   ]},
  {"width": 23.5, "height": 177.1,
   "title": {"text": "E", "dx": -43.5, "offset": -63},
   "data": {"name": "E_bars"},
   "encoding": {"x": {"field": "series", "type": "nominal", "sort": null, "axis": null, "scale": {"paddingInner": 0.05, "paddingOuter": 0.25}}},
   "layer": [
    {"mark": {"type": "bar", "stroke": "#666", "strokeWidth": 0.4},
     "encoding": {
      "y": {"field": "value", "type": "quantitative", "scale": {"domain": [0, 6000], "range": [176.9, 77.3], "nice": false}, "axis": {"values": [0, 2000, 4000, 6000], "tickCount": 20, "format": "d", "labelOverlap": false, "title": ["³H-cAMP accumulation", "(dpm)"], "titleX": -31, "titleY": 125}},
      "fill": {"field": "series", "type": "nominal", "scale": {"domain": ["basal", "isoprenaline 10µM", "cimaterol 0.3nM", "cimaterol 1nM", "cimaterol 3nM"], "range": ["#000", "#fff", "#c8c8c8", "#8c8c8c", "#9c9c9c"]}, "legend": null}}},
    {"transform": [{"filter": "datum.series === 'isoprenaline 10µM'"}], "mark": {"type": "bar", "fill": {"expr": "hatch"}, "stroke": "#999", "strokeWidth": 0.5}, "encoding": {"y": {"field": "value", "type": "quantitative", "axis": {"labelOverlap": false, "tickCount": 20, "values": [0, 2000, 4000, 6000]}}}},
    {"mark": {"type": "rule", "color": "#000", "strokeWidth": 0.7}, "encoding": {"y": {"field": "hi", "type": "quantitative", "axis": {"labelOverlap": false, "tickCount": 20, "values": [0, 2000, 4000, 6000]}}, "y2": {"field": "value"}}},
    {"mark": {"type": "tick", "color": "#000", "thickness": 0.7, "size": 3, "orient": "horizontal"}, "encoding": {"y": {"field": "hi", "type": "quantitative", "axis": {"labelOverlap": false, "tickCount": 20, "values": [0, 2000, 4000, 6000]}}}}
   ]},
  {"width": 183.5, "height": 177.1,
   "layer": [
    {"data": {"name": "E_curves"},
     "encoding": {
      "x": {"field": "logc", "type": "quantitative", "scale": {"domain": [-12.13, -6], "range": [0, 121.7], "nice": false, "zero": false}, "axis": {"values": [-12, -11, -10, -9, -8, -7, -6], "labelOverlap": false, "labelExpr": "'' + datum.value", "title": "log[CGP 12177](M)"}},
      "y": {"field": "value", "type": "quantitative", "scale": {"domain": [0, 6000], "range": [176.9, 77.3], "nice": false}, "axis": null}},
     "layer": [
      {"mark": {"type": "line", "interpolate": "monotone", "color": "#555", "strokeWidth": 0.7}, "encoding": {"detail": {"field": "series"}}},
      {"mark": {"type": "rule", "color": "#000", "strokeWidth": 0.7}, "encoding": {"y": {"field": "hi", "type": "quantitative"}, "y2": {"field": "value"}}},
      {"mark": {"type": "tick", "color": "#000", "thickness": 0.7, "size": 4, "orient": "horizontal"}, "encoding": {"y": {"field": "hi", "type": "quantitative"}}},
      {"mark": {"type": "point", "filled": true, "size": 24, "opacity": 1, "stroke": "#000", "strokeWidth": 0.7},
       "encoding": {
        "shape": {"field": "series", "type": "nominal", "scale": {"domain": ["basal", "isoprenaline 10µM", "cimaterol 0.3nM", "cimaterol 1nM", "cimaterol 3nM", "CGP 12177", "CGP 12177 + cimaterol 0.3nM", "CGP 12177 + cimaterol 1nM", "CGP 12177 + cimaterol 3nM"], "range": ["M-0.8,-1.4H0.8V1.4H-0.8Z", "M-1.1,-1.4H1.1V1.4H-1.1ZM-1.1,0H1.1", "M-0.9,-1.3H0.9V1.3H-0.9Z", "M-0.9,-1.3H0.9V1.3H-0.9Z", "M-0.7,-1.4H0.7V1.4H-0.7Z", "circle", "circle", "triangle-up", "triangle-down"]},
         "legend": {"legendX": -7, "legendY": 3, "labelOffset": 6, "encode": {"symbols": {"update": {"stroke": {"signal": "datum.value === 'cimaterol 3nM' ? '#999' : '#000'"}, "strokeWidth": {"value": 0.6}}}}}},
        "fill": {"field": "series", "type": "nominal", "scale": {"domain": ["basal", "isoprenaline 10µM", "cimaterol 0.3nM", "cimaterol 1nM", "cimaterol 3nM", "CGP 12177", "CGP 12177 + cimaterol 0.3nM", "CGP 12177 + cimaterol 1nM", "CGP 12177 + cimaterol 3nM"], "range": ["#000", "#fff", "#d0d0d0", "#777", "#999", "#000", "#fff", "#000", "#fff"]},
         "legend": {"legendX": -7, "legendY": 3, "labelOffset": 6, "encode": {"symbols": {"update": {"stroke": {"signal": "datum.value === 'cimaterol 3nM' ? '#999' : '#000'"}, "strokeWidth": {"value": 0.6}}}}}}}}
     ]},
    {"data": {"values": [{"label": "β2-WT"}]}, "mark": {"type": "text", "align": "right", "baseline": "middle", "fontSize": 10}, "encoding": {"x": {"datum": -6.39}, "y": {"datum": 520}, "text": {"field": "label"}}}
   ]},
  {"width": 16, "height": 177.1,
   "title": {"text": "F", "dx": -48, "offset": -71},
   "data": {"name": "F_bars"},
   "encoding": {"x": {"field": "series", "type": "nominal", "sort": null, "axis": null, "scale": {"paddingInner": 0.35, "paddingOuter": 0.3}}},
   "layer": [
    {"mark": {"type": "bar", "stroke": "#666", "strokeWidth": 0.4},
     "encoding": {
      "y": {"field": "value", "type": "quantitative", "scale": {"domain": [0, 3000, 9000, 10000], "range": [177.1, 96.9, 90.3, 79.3], "nice": false, "zero": false}, "axis": {"values": [0, 1000, 2000, 3000, 9000, 10000], "tickCount": 20, "format": "d", "labelOverlap": false, "title": ["³H-cAMP accumulation", "(dpm)"], "titleX": -40, "titleY": 125}},
      "fill": {"field": "series", "type": "nominal", "scale": {"domain": ["basal", "isoprenaline 10µM"], "range": ["#000", "#fff"]}, "legend": null}}},
    {"transform": [{"filter": "datum.series === 'isoprenaline 10µM'"}], "mark": {"type": "bar", "fill": {"expr": "hatch"}, "stroke": "#999", "strokeWidth": 0.5}, "encoding": {"y": {"field": "value", "type": "quantitative", "axis": {"labelOverlap": false, "tickCount": 20, "values": [0, 1000, 2000, 3000, 9000, 10000]}}}},
    {"mark": {"type": "rule", "color": "#000", "strokeWidth": 0.7}, "encoding": {"y": {"field": "hi", "type": "quantitative", "axis": {"labelOverlap": false, "tickCount": 20, "values": [0, 1000, 2000, 3000, 9000, 10000]}}, "y2": {"field": "value"}}},
    {"mark": {"type": "tick", "color": "#000", "thickness": 0.7, "size": 3, "orient": "horizontal"}, "encoding": {"y": {"field": "hi", "type": "quantitative", "axis": {"labelOverlap": false, "tickCount": 20, "values": [0, 1000, 2000, 3000, 9000, 10000]}}}}
   ]},
  {"width": 131, "height": 177.1,
   "layer": [
    {"data": {"name": "F_curves"},
     "encoding": {
      "x": {"field": "logc", "type": "quantitative", "scale": {"domain": [-11.2, -5], "range": [0, 130.8], "nice": false, "zero": false}, "axis": {"values": [-11, -10, -9, -8, -7, -6, -5], "labelOverlap": false, "labelExpr": "'' + datum.value", "title": "log[pindolol](M)"}},
      "y": {"field": "value", "type": "quantitative", "scale": {"domain": [0, 3000, 9000, 10000], "range": [177.1, 96.9, 90.3, 79.3], "nice": false, "zero": false}, "axis": null}},
     "layer": [
      {"mark": {"type": "line", "interpolate": "monotone", "color": "#555", "strokeWidth": 0.7}, "encoding": {"detail": {"field": "series"}}},
      {"mark": {"type": "rule", "color": "#000", "strokeWidth": 0.7}, "encoding": {"y": {"field": "hi", "type": "quantitative"}, "y2": {"field": "value"}}},
      {"mark": {"type": "tick", "color": "#000", "thickness": 0.7, "size": 4, "orient": "horizontal"}, "encoding": {"y": {"field": "hi", "type": "quantitative"}}},
      {"mark": {"type": "point", "filled": true, "size": 24, "opacity": 1, "fill": "#000", "shape": "circle"}, "encoding": {}}
     ]},
    {"data": {"values": [{"label": "β2-WT"}]}, "mark": {"type": "text", "align": "right", "baseline": "middle", "fontSize": 10}, "encoding": {"x": {"datum": -6.07}, "y": {"datum": 570}, "text": {"field": "label"}}}
   ]}
]
}
